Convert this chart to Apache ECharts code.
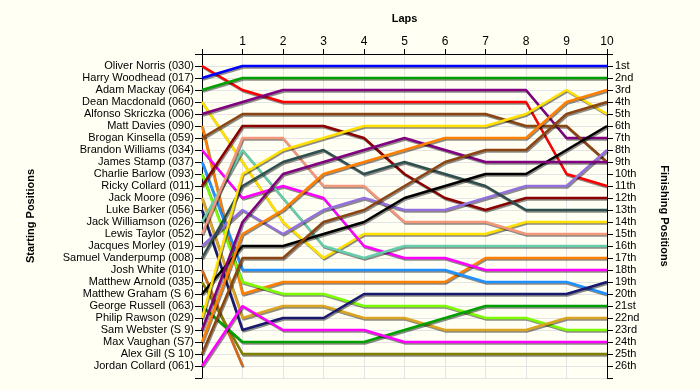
<!DOCTYPE html>
<html><head><meta charset="utf-8">
<script src="https://cdn.jsdelivr.net/npm/echarts@6/dist/echarts.min.js"></script>
<style>html,body{margin:0;padding:0;background:#FFFFF3;} #c{width:700px;height:390px;}</style>
</head><body><div id="c"></div>
<script>
const laps = [0,1,2,3,4,5,6,7,8,9,10];
const lapLabels = ['', '1', '2', '3', '4', '5', '6', '7', '8', '9', '10'];
const starters = [
  'Oliver Norris (030)', 'Harry Woodhead (017)', 'Adam Mackay (064)', 'Dean Macdonald (060)',
  'Alfonso Skriczka (006)', 'Matt Davies (090)', 'Brogan Kinsella (059)', 'Brandon Williams (034)',
  'James Stamp (037)', 'Charlie Barlow (093)', 'Ricky Collard (011)', 'Jack Moore (096)',
  'Luke Barker (056)', 'Jack Williamson (026)', 'Lewis Taylor (052)', 'Jacques Morley (019)',
  'Samuel Vanderpump (008)', 'Josh White (010)', 'Matthew Arnold (035)', 'Matthew Graham (S 6)',
  'George Russell (063)', 'Philip Rawson (029)', 'Sam Webster (S 9)', 'Max Vaughan (S7)',
  'Alex Gill (S 10)', 'Jordan Collard (061)'
];
const finishLabels = ['1st','2nd','3rd','4th','5th','6th','7th','8th','9th','10th','11th','12th','13th',
  '14th','15th','16th','17th','18th','19th','20th','21st','22nd','23rd','24th','25th','26th'];

// positions per lap (lap 0 = start)
const norris     = [1,3,4,4,4,4,4,4,4,10,11];
const woodhead   = [2,1,1,1,1,1,1,1,1,1,1];
const mackay     = [3,2,2,2,2,2,2,2,2,2,2];
const macdonald  = [4,9,14,17,15,15,15,15,14,14,14];
const skriczka   = [5,4,3,3,3,3,3,3,3,7,7];
const davies     = [6,20,19,19,19,19,19,17,17,17,17];
const kinsella   = [7,5,5,5,5,5,5,5,6,6,9];
const williams   = [8,12,11,12,16,17,17,18,18,18,18];
const stamp      = [9,18,18,18,18,18,18,19,19,19,20];
const barlow     = [10,19,20,20,21,21,21,22,22,23,23];
const rcollard   = [11,6,6,6,7,10,12,13,12,12,12];
const moore      = [12,22,21,21,22,22,23,23,23,22,22];
const barker     = [13,23,22,22,20,20,20,20,20,20,19];
const williamson = [14,8,12,16,17,16,16,16,16,16,16];
const taylor     = [15,7,7,11,11,14,14,14,15,15,15];
const morley     = [16,13,15,13,12,13,13,12,11,11,8];
const vanderpump = [17,11,9,8,10,9,10,11,13,13,13];
const white      = [18,26,null,null,null,null,null,null,null,null,null];
const arnold     = [19,25,25,25,25,25,25,25,25,25,25];
const graham     = [20,16,16,15,14,12,11,10,10,8,6];
const russell    = [21,24,24,24,24,23,22,21,21,21,21];
const rawson     = [22,10,8,7,6,6,6,6,5,3,5];
const webster    = [23,14,10,9,8,7,8,9,9,9,9];
const vaughan    = [24,15,13,10,9,8,7,7,7,4,3];
const gill       = [25,17,17,14,13,11,9,8,8,5,4];
const jcollard   = [26,21,23,23,23,24,24,24,24,24,24];

const positions = [norris, woodhead, mackay, macdonald, skriczka, davies, kinsella, williams, stamp,
  barlow, rcollard, moore, barker, williamson, taylor, morley, vanderpump, white, arnold, graham,
  russell, rawson, webster, vaughan, gill, jcollard];

const colors = ['#FF0000','#0000FF','#00A000','#FFE000','#800080','#FF8000','#8B4513','#FF00FF',
  '#1E90FF','#7CFC00','#8B0000','#DAA520','#191970','#66CDAA','#F4967A','#9370DB','#2F4F4F',
  '#D2691E','#808000','#000000','#00A000','#FFE000','#800080','#FF8000','#8B4513','#FF00FF'];

const FONT = "'Liberation Sans', Arial, sans-serif";
const chart = echarts.init(document.getElementById('c'), null, {renderer: 'canvas'});

const series = positions.map((arr, i) => ({
  name: starters[i],
  type: 'line',
  data: laps.map((l, j) => [l, arr[j]]),
  showSymbol: false,
  symbol: 'none',
  connectNulls: false,
  animation: false,
  lineStyle: {
    color: colors[i], width: 2.5,
    shadowColor: 'rgba(0,0,0,0.45)', shadowBlur: 0, shadowOffsetX: 1, shadowOffsetY: 1.5
  },
  emphasis: {disabled: true},
  z: 2 + i
}));

chart.setOption({
  backgroundColor: '#FFFFF3',
  animation: false,
  grid: {left: 202, right: 93, top: 54, bottom: 12, containLabel: false},
  xAxis: {
    type: 'value', position: 'top', min: 0, max: 10, interval: 1,
    name: 'Laps', nameLocation: 'middle', nameGap: 30,
    nameTextStyle: {fontFamily: FONT, fontSize: 11, fontWeight: 'bold', color: '#000'},
    axisLine: {show: true, lineStyle: {color: '#000', width: 1}},
    axisTick: {show: true, length: 5, lineStyle: {color: '#000'}},
    axisLabel: {fontFamily: FONT, fontSize: 12, color: '#000', margin: 6,
      formatter: v => lapLabels[v] || ''},
    splitLine: {show: true, lineStyle: {color: '#E4E4E4', width: 1}}
  },
  yAxis: [{
    type: 'value', position: 'left', min: 0, max: 27, interval: 1, inverse: true,
    name: 'Starting Positions', nameLocation: 'middle', nameGap: 166, nameRotate: 90,
    nameTextStyle: {fontFamily: FONT, fontSize: 11, fontWeight: 'bold', color: '#000'},
    axisLine: {show: true, lineStyle: {color: '#000', width: 1}},
    axisTick: {show: true, length: 7, lineStyle: {color: '#000'}},
    axisLabel: {fontFamily: FONT, fontSize: 11, color: '#000', margin: 8,
      formatter: v => starters[v - 1] || ''},
    splitLine: {show: true, lineStyle: {color: '#E4E4E4', width: 1}}
  }, {
    type: 'value', position: 'right', min: 0, max: 27, interval: 1, inverse: true,
    name: 'Finishing Positions', nameLocation: 'middle', nameGap: 52, nameRotate: -90,
    nameTextStyle: {fontFamily: FONT, fontSize: 11, fontWeight: 'bold', color: '#000'},
    axisLine: {show: true, lineStyle: {color: '#000', width: 1}},
    axisTick: {show: true, length: 6, lineStyle: {color: '#000'}},
    axisLabel: {fontFamily: FONT, fontSize: 11, color: '#000', margin: 8,
      formatter: v => finishLabels[v - 1] || ''},
    splitLine: {show: false}
  }],
  series: series
});
</script>
</body></html>
